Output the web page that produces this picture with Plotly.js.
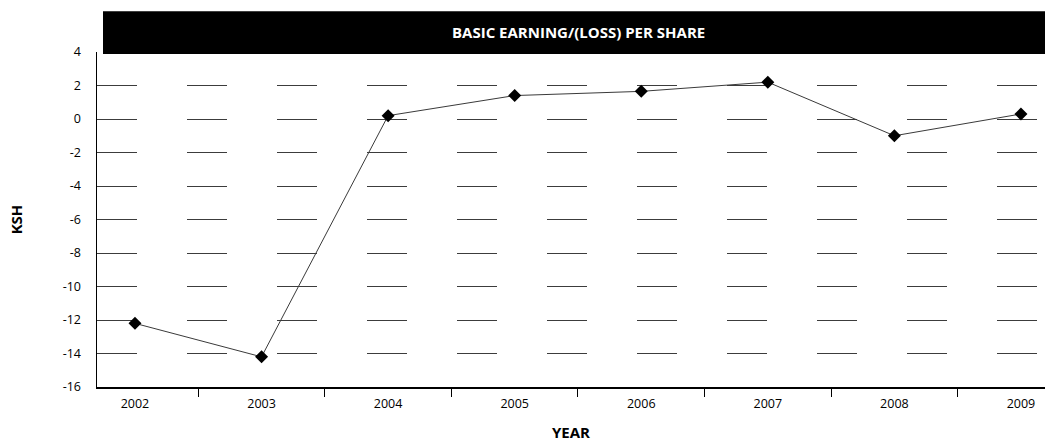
<!DOCTYPE html>
<html>
<head>
<meta charset="utf-8">
<script src="https://cdn.plot.ly/plotly-3.0.1.min.js"></script>
<style>html,body{margin:0;padding:0;background:#fff;}#chart{width:1045px;height:444px;}</style>
</head>
<body>
<div id="chart"></div>
<script>
var years = ['2002','2003','2004','2005','2006','2007','2008','2009'];
var eps = [-12.2, -14.2, 0.2, 1.4, 1.65, 2.2, -1.0, 0.3];
var yTickVals = [4, 2, 0, -2, -4, -6, -8, -10, -12, -14, -16];
var yTickText = ['4', '2', '0', '-2', '-4', '-6', '-8', '-10', '-12', '-14', '-16'];
var chartTitle = 'BASIC EARNING/(LOSS) PER SHARE';
var xTitle = 'YEAR';
var yTitle = 'KSH';

var font = 'Open Sans, Noto Sans, sans-serif';

var trace = {
  x: years,
  y: eps,
  type: 'scatter',
  mode: 'lines+markers',
  line: {color: '#3a3a3a', width: 1},
  marker: {symbol: 'diamond', size: 10, color: '#000'},
  hoverinfo: 'x+y'
};

var layout = {
  width: 1045,
  height: 444,
  margin: {l: 97, r: 0, t: 52, b: 57},
  paper_bgcolor: '#fff',
  plot_bgcolor: '#fff',
  showlegend: false,
  font: {family: font, color: '#000', size: 12},
  xaxis: {
    type: 'category',
    range: [-0.3, 7.19],
    showgrid: false,
    zeroline: false,
    showline: true,
    linecolor: '#000',
    linewidth: 2,
    ticks: 'outside',
    tickson: 'boundaries',
    ticklen: 8,
    tickcolor: '#000',
    tickwidth: 1,
    ticklabelstandoff: 4,
    tickfont: {family: font, size: 12.5, color: '#000'},
    title: {text: xTitle, font: {family: font, size: 15, color: '#000', weight: 'bold'}, standoff: 16}
  },
  yaxis: {
    range: [-16, 4],
    tickvals: yTickVals,
    ticktext: yTickText,
    showgrid: true,
    gridcolor: '#3c3c3c',
    gridwidth: 1,
    griddash: '40px,50px',
    zeroline: false,
    showline: true,
    linecolor: '#000',
    linewidth: 1.5,
    ticks: '',
    ticklabelstandoff: 12,
    tickfont: {family: font, size: 12.5, color: '#000'},
    title: {text: yTitle, font: {family: font, size: 15, color: '#000', weight: 'bold'}, standoff: 36}
  },
  shapes: [{
    type: 'rect',
    xref: 'paper', yref: 'paper',
    x0: 6 / 948, x1: 1,
    y0: 0.994, y1: 1.122,
    fillcolor: '#000',
    line: {width: 0},
    layer: 'above'
  }],
  annotations: [{
    text: chartTitle,
    xref: 'paper', yref: 'paper',
    x: (578 - 97) / 948, y: 1 + (52 - 32) / 335,
    xanchor: 'center', yanchor: 'middle',
    showarrow: false,
    font: {family: font, size: 15, color: '#fff', weight: 'bold'}
  }]
};

Plotly.newPlot('chart', [trace], layout, {displayModeBar: false, staticPlot: true});
</script>
</body>
</html>
